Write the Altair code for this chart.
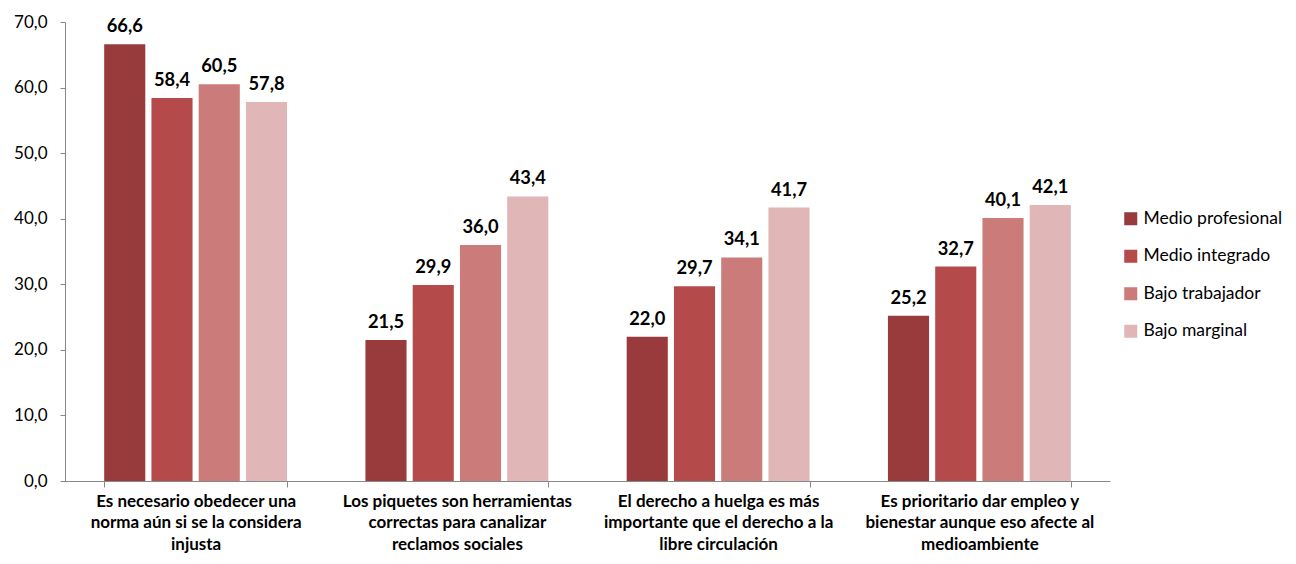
import altair as alt
import pandas as pd

categories = [
    "Es necesario obedecer una\nnorma aún si se la considera\ninjusta",
    "Los piquetes son herramientas\ncorrectas para canalizar\nreclamos sociales",
    "El derecho a huelga es más\nimportante que el derecho a la\nlibre circulación",
    "Es prioritario dar empleo y\nbienestar aunque eso afecte al\nmedioambiente",
]
series = ["Medio profesional", "Medio integrado", "Bajo trabajador", "Bajo marginal"]
colors = ["#993B3C", "#B44B4A", "#CC7B7B", "#E0B6B6"]
medio_profesional = [66.6, 21.5, 22.0, 25.2]
medio_integrado = [58.4, 29.9, 29.7, 32.7]
bajo_trabajador = [60.5, 36.0, 34.1, 40.1]
bajo_marginal = [57.8, 43.4, 41.7, 42.1]

values = [medio_profesional, medio_integrado, bajo_trabajador, bajo_marginal]
rows = []
for s, vals in zip(series, values):
    for c, v in zip(categories, vals):
        rows.append({"cat": c, "serie": s, "valor": v})
df = pd.DataFrame(rows)

FONT = "Lato"

x = alt.X("cat:N", sort=categories, title=None,
          scale=alt.Scale(paddingInner=0.3, paddingOuter=0.15),
          axis=alt.Axis(labelAngle=0, labelExpr="split(datum.label, '\\n')",
                        labelFontWeight="bold", labelFontSize=17, labelColor="#000",
                        labelFont=FONT, labelLineHeight=21.5, labelPadding=6,
                        tickBand="extent", tickSize=6, tickColor="#888", domainColor="#888",
                        labelLimit=400))
xo = alt.XOffset("serie:N", sort=series, scale=alt.Scale(paddingInner=0.13, paddingOuter=0))
y = alt.Y("valor:Q", title=None,
          scale=alt.Scale(domain=[0, 70], nice=False),
          axis=alt.Axis(values=[0, 10, 20, 30, 40, 50, 60, 70],
                        labelExpr="replace(format(datum.value, '.1f'), '.', ',')",
                        grid=False, labelFontSize=17, labelFont=FONT, labelColor="#000",
                        tickSize=5, tickColor="#888", domainColor="#888", labelPadding=13))
color = alt.Color("serie:N", sort=series, scale=alt.Scale(domain=series, range=colors),
                  legend=alt.Legend(title=None, symbolType="square", symbolSize=170,
                                    labelFontSize=17.5, labelFont=FONT, labelColor="#000",
                                    rowPadding=18.5, orient="none", legendX=1057, legendY=188,
                                    labelOffset=4, symbolStrokeWidth=0, labelLimit=300))

bars = alt.Chart(df).mark_bar().encode(x=x, xOffset=xo, y=y, color=color)
labels = alt.Chart(df).mark_text(baseline="bottom", dy=-8, fontWeight="bold",
                                 fontSize=18.3, font=FONT, color="#000").encode(
    x=alt.X("cat:N", sort=categories), xOffset=xo, y="valor:Q",
    text=alt.Text("lbl:N"))
labels = labels.transform_calculate(lbl="replace(format(datum.valor, '.1f'), '.', ',')")

chart = alt.layer(bars, labels).properties(
    width=1045, height=459,
    autosize=alt.AutoSizeParams(type="none"),
    padding={"left": 57, "top": 14, "right": 178, "bottom": 75},
).configure_view(stroke=None)

chart.save("out.html", embed_options={"renderer": "svg", "actions": False})
